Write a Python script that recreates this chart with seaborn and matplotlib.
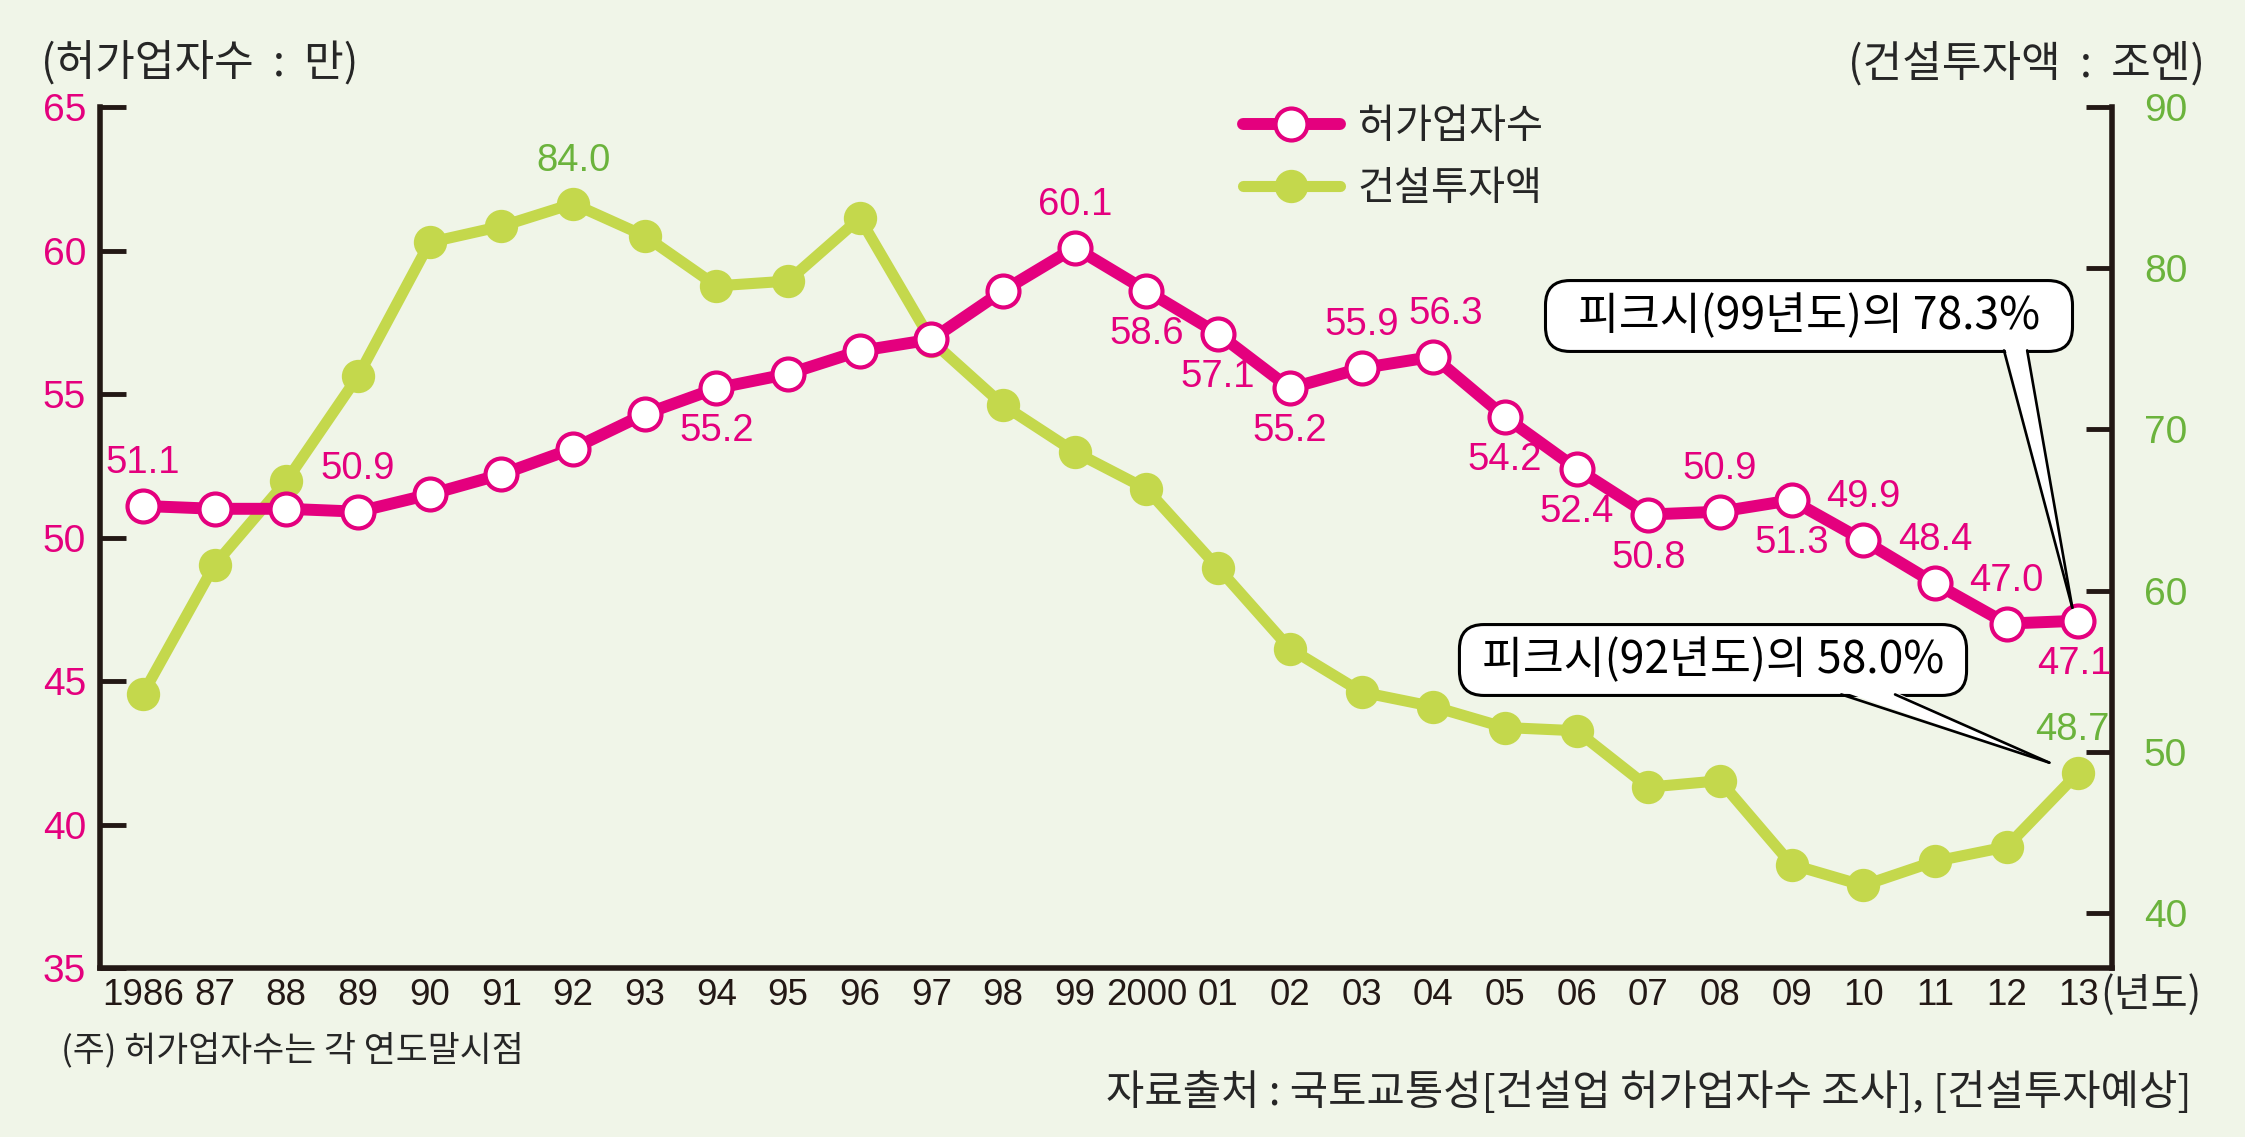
import matplotlib
matplotlib.use("Agg")
import matplotlib.pyplot as plt
import seaborn as sns
import pandas as pd
import numpy as np
from matplotlib.patches import Polygon
from matplotlib.lines import Line2D
from matplotlib.transforms import IdentityTransform

# ---------------- data ----------------
years = list(range(1986, 2014))
year_labels = ["1986", "87", "88", "89", "90", "91", "92", "93", "94", "95", "96",
               "97", "98", "99", "2000", "01", "02", "03", "04", "05", "06", "07",
               "08", "09", "10", "11", "12", "13"]
permits = [51.1, 51.0, 51.0, 50.9, 51.5, 52.2, 53.1, 54.3, 55.2, 55.7, 56.5, 56.9,
           58.6, 60.1, 58.6, 57.1, 55.2, 55.9, 56.3, 54.2, 52.4, 50.8, 50.9, 51.3,
           49.9, 48.4, 47.0, 47.1]
investment = [53.6, 61.6, 66.8, 73.3, 81.6, 82.6, 84.0, 82.0, 78.9, 79.2, 83.1, 75.5,
              71.5, 68.6, 66.3, 61.4, 56.4, 53.7, 52.8, 51.5, 51.3, 47.8, 48.2, 43.0,
              41.7, 43.2, 44.1, 48.7]
left_ticks = [35, 40, 45, 50, 55, 60, 65]
right_ticks = [40, 50, 60, 70, 80, 90]
series_names = ["허가업자수", "건설투자액"]
callout_permits = "피크시(99년도)의 78.3%"
callout_invest = "피크시(92년도)의 58.0%"

# which points get value labels: above ('a') or below ('b')
permit_label_pos = {0: "a", 3: "a", 8: "b", 13: "a", 14: "b", 15: "b", 16: "b",
                    17: "a", 18: "a", 19: "b", 20: "b", 21: "b", 22: "a", 23: "b",
                    24: "a", 25: "a", 26: "a", 27: "b"}
permit_label_dx = {18: 9, 27: -3}
invest_label_pos = {6: "a", 27: "a"}
invest_label_dx = {27: -4}

# ---------------- style ----------------
BG = "#F0F5E8"
PINK = "#E4007E"
GREEN = "#C4D84C"
GREEN_TXT = "#6BB33C"
DARK = "#231815"
KR = ["Noto Sans CJK KR", "DejaVu Sans"]
NUM = ["Liberation Sans", "DejaVu Sans"]

sns.set_style("white", rc={"axes.facecolor": BG, "figure.facecolor": BG})
plt.rcParams["font.family"] = NUM

W, H = 2245, 1137
fig = plt.figure(figsize=(W / 100, H / 100), dpi=100)
fig.patch.set_facecolor(BG)
L, R, T, B = 100, 2112, 107, 968
ax = fig.add_axes([L / W, 1 - B / H, (R - L) / W, (B - T) / H])
ax2 = ax.twinx()

df = pd.DataFrame({"year": years, "permits": permits, "investment": investment})

sns.lineplot(data=df, x="year", y="investment", ax=ax2, color=GREEN, lw=8,
             marker="o", markersize=22, markerfacecolor=GREEN, markeredgecolor=GREEN,
             markeredgewidth=2, legend=False)
sns.lineplot(data=df, x="year", y="permits", ax=ax, color=PINK, lw=8.6,
             marker="o", markersize=23, markerfacecolor="white", markeredgecolor=PINK,
             markeredgewidth=3, legend=False)

ax.set_zorder(ax2.get_zorder() + 1)
ax.patch.set_visible(False)

ax.set_xlim(1985.4, 2013.47)
ax.set_ylim(35, 65)
ax2.set_ylim(36.58, 90)
for a in (ax, ax2):
    a.set_xlabel("")
    a.set_ylabel("")

ax.set_xticks(years)
ax.set_xticklabels(year_labels)
ax.set_yticks(left_ticks)
ax2.set_yticks(right_ticks)

for sp in ["top", "right"]:
    ax.spines[sp].set_visible(False)
for sp in ["top", "left", "bottom"]:
    ax2.spines[sp].set_visible(False)
for sp in ["left", "bottom"]:
    ax.spines[sp].set_color(DARK)
    ax.spines[sp].set_linewidth(4)
ax2.spines["right"].set_color(DARK)
ax2.spines["right"].set_linewidth(4)

ax.tick_params(axis="x", direction="in", length=18, width=3.5, color=DARK,
               labelsize=26.5, labelcolor=DARK, pad=7)
ax.tick_params(axis="y", direction="in", length=19, width=3.5, color=DARK,
               labelsize=28, labelcolor=PINK, pad=10)
ax2.tick_params(axis="y", direction="in", length=19, width=3.5, color=DARK,
                labelsize=28, labelcolor=GREEN_TXT, pad=23)

# value labels
OFF = 31
for i, pos in permit_label_pos.items():
    ax.annotate(f"{permits[i]:.1f}", (years[i], permits[i]),
                xytext=(permit_label_dx.get(i, 0), OFF if pos == "a" else -OFF),
                textcoords="offset points", ha="center", va="center", fontsize=27.5,
                color=PINK, family=NUM, zorder=10)
for i, pos in invest_label_pos.items():
    ax2.annotate(f"{investment[i]:.1f}", (years[i], investment[i]),
                 xytext=(invest_label_dx.get(i, 0), OFF if pos == "a" else -OFF),
                 textcoords="offset points", ha="center", va="center", fontsize=27.5,
                 color=GREEN_TXT, family=NUM, zorder=10)

# callout boxes
box = dict(boxstyle="round,pad=0.28,rounding_size=0.55", fc="white", ec="black", lw=2.2)
t1 = fig.text(1809 / W, 1 - 316 / H, "  " + callout_permits + "  ", ha="center", va="center",
              fontsize=32, family=KR, color="black", bbox=box, zorder=20)
t2 = fig.text(1713 / W, 1 - 660 / H, " " + callout_invest + " ", ha="center", va="center",
              fontsize=32, family=KR, color="black", bbox=box, zorder=20)

# legend
h1 = ax.lines[0]
h2 = ax2.lines[0]
fig.legend([h1, h2], series_names, loc="upper left", bbox_to_anchor=(1243 / W, 1 - 106 / H),
           frameon=False, handlelength=2.4, handletextpad=0.45,
           labelspacing=0.52, borderpad=0, borderaxespad=0, prop={"family": KR, "size": 29})

# axis titles and notes
fig.text(41 / W, 1 - 64 / H, "(허가업자수  :  만)", ha="left", va="center", fontsize=31, family=KR)
fig.text(2205 / W, 1 - 64 / H, "(건설투자액  :  조엔)", ha="right", va="center", fontsize=31, family=KR)
fig.text(2100 / W, 1 - 995 / H, "(년도)", ha="left", va="center", fontsize=29, family=KR)
fig.text(61 / W, 1 - 1050 / H, "(주) 허가업자수는 각 연도말시점", ha="left", va="center",
         fontsize=25, family=KR)
fig.text(2191 / W, 1 - 1093 / H, "자료출처 : 국토교통성[건설업 허가업자수 조사], [건설투자예상]",
         ha="right", va="center", fontsize=30, family=KR)

# callout pointers (computed from box extents and the annotated data points)
fig.canvas.draw()
renderer = fig.canvas.get_renderer()


def pointer(text_obj, axis, xy, f0, f1, tip_off):
    bb = text_obj.get_bbox_patch().get_window_extent(renderer)
    y = bb.y0
    xa = bb.x0 + f0 * bb.width
    xb = bb.x0 + f1 * bb.width
    px, py = axis.transData.transform(xy)
    tip = (px + tip_off[0], py + tip_off[1])
    fill = Polygon([(xa + 1, y + 4), (xb - 1, y + 4), tip], closed=True, fc="white",
                   ec="none", transform=IdentityTransform(), zorder=21)
    fig.add_artist(fill)
    for xs in (xa, xb):
        fig.add_artist(Line2D([xs, tip[0]], [y + 1, tip[1]], color="black", lw=1.9,
                              transform=IdentityTransform(), zorder=22,
                              solid_capstyle="round"))


pointer(t1, ax, (years[-1], permits[-1]), 0.87, 0.914, (-6, 13))
pointer(t2, ax2, (years[-1], investment[-1]), 0.753, 0.859, (-29, 10))

fig.savefig("out.png", dpi=100, facecolor=BG)
